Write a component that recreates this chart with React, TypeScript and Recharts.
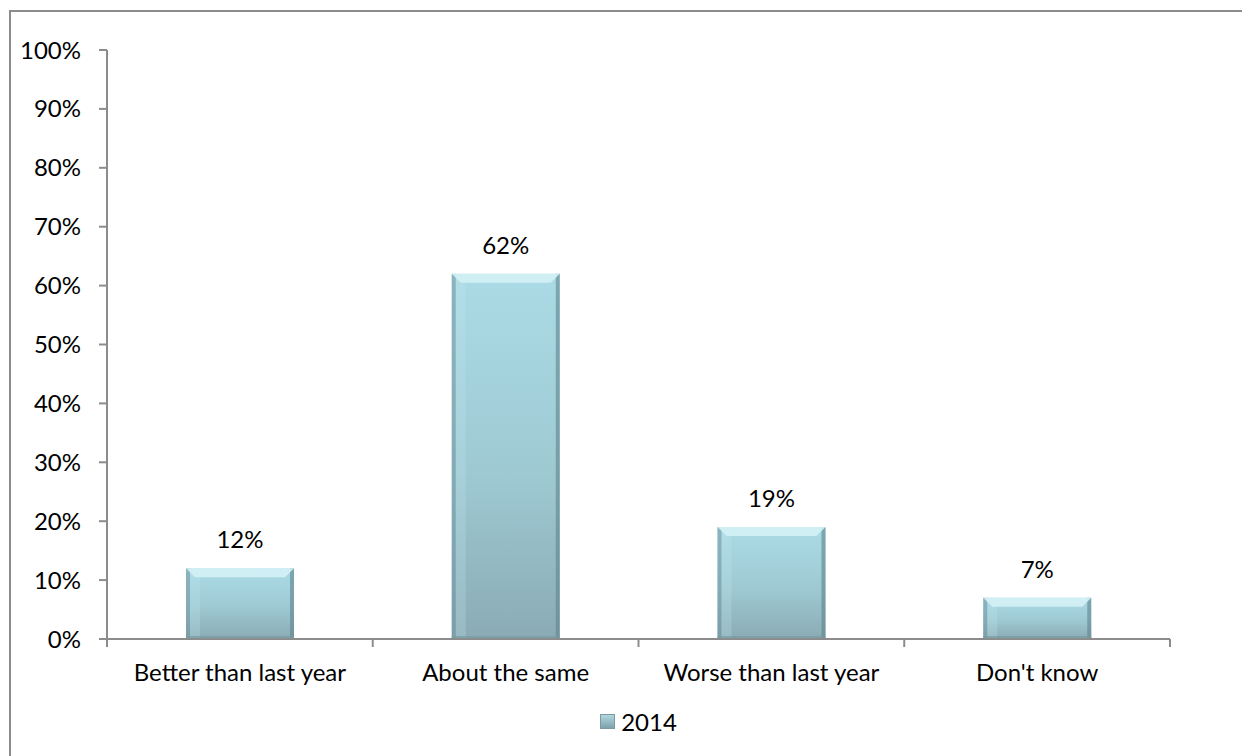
import React from "react";
import { BarChart, Bar, XAxis, YAxis, Legend, LabelList } from "recharts";

const categories = ["Better than last year", "About the same", "Worse than last year", "Don't know"];
const values2014 = [12, 62, 19, 7];
const yTicks = [0, 10, 20, 30, 40, 50, 60, 70, 80, 90, 100];

const data = categories.map((c, i) => ({ name: c, v2014: values2014[i] }));

const W = 1242;
const H = 756;
const X_H = 60;
const LEG_H = 28;
const M = { top: 50, right: 72, bottom: 117 - X_H - LEG_H, left: 47 };
const Y_W = 60;
const PLOT_W = W - M.left - Y_W - M.right;
const BAND = PLOT_W / categories.length;
const FONT = "Lato, 'Open Sans', sans-serif";
const FS = 24;
const AXIS = "#8c8c8c";

const BevelBar = (props: any) => {
  const { x, y, width, height } = props;
  if (!height || height <= 0) return null;
  const b = Math.min(9, height / 3);
  return (
    <g>
      <rect x={x} y={y} width={width} height={height} fill="url(#barFill)" />
      <rect x={x} y={y} width={4} height={height} fill="#6f939c" opacity={0.55} />
      <rect x={x + width - 4} y={y} width={4} height={height} fill="#5e838c" opacity={0.6} />
      <rect x={x + 4} y={y} width={10} height={height} fill="#c2e6ef" opacity={0.25} />
      <polygon points={`${x},${y} ${x + width},${y} ${x + width - b},${y + b} ${x + b},${y + b}`} fill="#d4f1f6" opacity={0.9} />
      <rect x={x} y={y + height - 3} width={width} height={3} fill="#789aa3" opacity={0.7} />
    </g>
  );
};

const CatTick = (props: any) => {
  const { x, y, payload, index } = props;
  const ay = y - 8;
  return (
    <g>
      <line x1={x - BAND / 2} y1={ay} x2={x - BAND / 2} y2={ay + 8} stroke={AXIS} strokeWidth={2} />
      {index === categories.length - 1 && (
        <line x1={x + BAND / 2} y1={ay} x2={x + BAND / 2} y2={ay + 8} stroke={AXIS} strokeWidth={2} />
      )}
      <text x={x} y={ay + 42} textAnchor="middle" fill="#000" fontSize={FS} fontFamily={FONT}>
        {payload.value}
      </text>
    </g>
  );
};

const LegendIcon = () => (
  <div style={{ display: "flex", alignItems: "center", justifyContent: "center", height: LEG_H, fontFamily: FONT, fontSize: FS, color: "#000" }}>
    <span style={{ width: 15, height: 15, marginRight: 6, background: "linear-gradient(#b0d6df, #7fa3ad)", border: "1px solid #7d9aa2", boxSizing: "border-box" }} />
    2014
  </div>
);

export default function App() {
  return (
    <div style={{ position: "absolute", left: 0, top: 0, width: W, height: H, background: "#fff", overflow: "hidden" }}>
      <div style={{ position: "absolute", left: 9, top: 10, width: W, height: H, borderLeft: "2px solid #8c8c8c", borderTop: "2px solid #8c8c8c" }} />
      <BarChart width={W} height={H} data={data} margin={M} style={{ position: "absolute", left: 0, top: 0 }}>
        <defs>
          <linearGradient id="barFill" x1="0" y1="0" x2="0" y2="1">
            <stop offset="0%" stopColor="#abdbe6" />
            <stop offset="55%" stopColor="#9ec9d3" />
            <stop offset="100%" stopColor="#8aabb4" />
          </linearGradient>
        </defs>
        <XAxis dataKey="name" axisLine={{ stroke: AXIS, strokeWidth: 2 }} tickLine={false} tick={<CatTick />} interval={0} height={X_H} />
        <YAxis
          width={Y_W}
          domain={[0, 100]}
          ticks={yTicks}
          interval={0}
          tickFormatter={(v) => `${v}%`}
          axisLine={{ stroke: AXIS, strokeWidth: 2 }}
          tickLine={{ stroke: AXIS, strokeWidth: 2 }}
          tickSize={8}
          tickMargin={18}
          tick={{ fill: "#000", fontSize: FS, fontFamily: FONT }}
        />
        <Legend
          verticalAlign="bottom"
          height={LEG_H}
          content={<LegendIcon />}
          wrapperStyle={{ bottom: 21, left: M.left + Y_W, width: PLOT_W }}
        />
        <Bar dataKey="v2014" name="2014" barSize={108} shape={<BevelBar />} isAnimationActive={false}>
          <LabelList dataKey="v2014" position="top" offset={20} formatter={(v: any) => `${v}%`} fill="#000" fontSize={FS} fontFamily={FONT} />
        </Bar>
      </BarChart>
    </div>
  );
}
